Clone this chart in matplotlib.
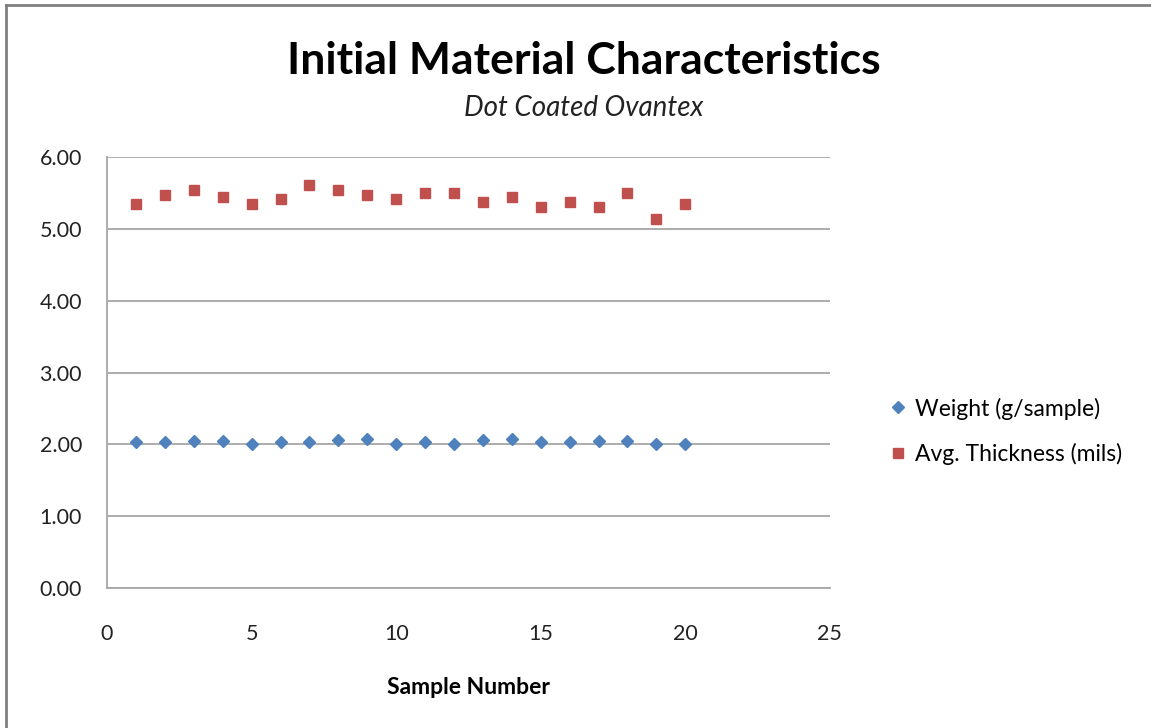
import matplotlib
matplotlib.use('Agg')
import matplotlib.pyplot as plt
from matplotlib.lines import Line2D
from matplotlib.ticker import FormatStrFormatter

plt.rcParams['font.family'] = ['Lato', 'DejaVu Sans']

# sample numbers and measured values
samples = list(range(1, 21))
weight = [2.03, 2.03, 2.04, 2.04, 2.01, 2.03, 2.03, 2.06, 2.07, 2.01,
          2.03, 2.00, 2.06, 2.07, 2.03, 2.03, 2.04, 2.04, 2.01, 2.01]
thickness = [5.34, 5.47, 5.54, 5.44, 5.34, 5.41, 5.61, 5.54, 5.47, 5.41,
             5.50, 5.50, 5.375, 5.44, 5.31, 5.375, 5.31, 5.50, 5.14, 5.34]
x_ticks = [0, 5, 10, 15, 20, 25]
y_ticks = [0, 1, 2, 3, 4, 5, 6]

fig = plt.figure(figsize=(11.51, 7.28), dpi=100)
ax = fig.add_axes([0.093, 0.1923, 0.628, 0.592])

ax.plot(samples, weight, linestyle='none', marker='D', markersize=6.5,
        color='#4F81BD', label='Weight (g/sample)')
ax.plot(samples, thickness, linestyle='none', marker='s', markersize=7.2,
        color='#C0504D', label='Avg. Thickness (mils)')

ax.set_xlim(0, 25)
ax.set_ylim(0, 6)
ax.set_xticks(x_ticks)
ax.set_yticks(y_ticks)
ax.yaxis.set_major_formatter(FormatStrFormatter('%.2f'))
ax.tick_params(axis='both', length=0, labelsize=15.5, colors='#222222')
ax.tick_params(axis='y', pad=18)
ax.tick_params(axis='x', pad=26)
ax.grid(axis='y', color='#a6a6a6', linewidth=1.3)
ax.set_axisbelow(True)
for s in ['top', 'right']:
    ax.spines[s].set_visible(False)
for s in ['left', 'bottom']:
    ax.spines[s].set_color('#a6a6a6')
    ax.spines[s].set_linewidth(1.3)

ax.set_xlabel('Sample Number', fontsize=16.5, fontweight='bold', labelpad=24)

fig.text(0.507, 0.916, 'Initial Material Characteristics', ha='center', va='center',
         fontsize=32, fontweight='bold')
fig.text(0.507, 0.851, 'Dot Coated Ovantex', ha='center', va='center',
         fontsize=20, style='italic', color='#222222')

ax.legend(loc='center left', bbox_to_anchor=(0.766, 0.408), bbox_transform=fig.transFigure,
          frameon=False, fontsize=16.5, handlelength=0.6, handletextpad=0.45,
          labelspacing=1.0, borderaxespad=0)

# outer chart frame (left and top edges visible)
fig.add_artist(Line2D([0.005, 0.005], [0, 0.993], transform=fig.transFigure,
                      color='#808080', linewidth=2))
fig.add_artist(Line2D([0.005, 1.0], [0.993, 0.993], transform=fig.transFigure,
                      color='#808080', linewidth=2))

fig.savefig('out.png', dpi=100)
